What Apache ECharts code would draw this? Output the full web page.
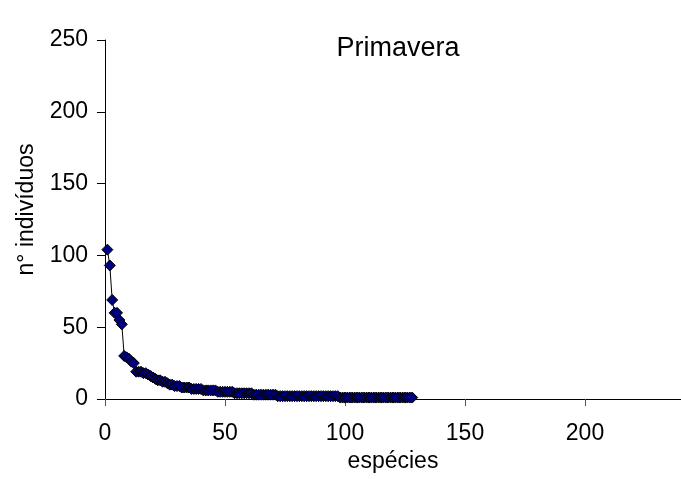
<!DOCTYPE html>
<html>
<head>
<meta charset="utf-8">
<script src="https://cdn.jsdelivr.net/npm/echarts@6/dist/echarts.min.js"></script>
<style>
  html, body { margin: 0; padding: 0; background: #fff; }
  #chart { width: 681px; height: 479px; }
</style>
</head>
<body>
<div id="chart"></div>
<script>
// species abundance, ranked (rank 1 .. 128)
var abundance = [
  104, 93, 69, 60, 60, 55, 52, 30, 29, 28,
  26, 25, 19, 19, 19, 18, 18, 17, 16, 15,
  14, 13, 13, 12, 12, 11, 10, 10, 9, 9,
  9, 8, 8, 8, 8, 7, 7, 7, 7, 7,
  6, 6, 6, 6, 6, 6, 5, 5, 5, 5,
  5, 5, 5, 4, 4, 4, 4, 4, 4, 4,
  4, 3, 3, 3, 3, 3, 3, 3, 3, 3,
  3, 2, 2, 2, 2, 2, 2, 2, 2, 2,
  2, 2, 2, 2, 2, 2, 2, 2, 2, 2,
  2, 2, 2, 2, 2, 2, 2, 1, 1, 1,
  1, 1, 1, 1, 1, 1, 1, 1, 1, 1,
  1, 1, 1, 1, 1, 1, 1, 1, 1, 1,
  1, 1, 1, 1, 1, 1, 1, 1
];
var xTicks = [0, 50, 100, 150, 200];
var yTicks = [0, 50, 100, 150, 200, 250];

var points = abundance.map(function (v, i) { return [i + 1, v]; });

var font = 'Liberation Sans, Arial, sans-serif';
var chart = echarts.init(document.getElementById('chart'));
chart.setOption({
  animation: false,
  title: {
    text: 'Primavera',
    left: 393,
    top: 30,
    textAlign: 'center',
    textStyle: { fontFamily: font, fontSize: 27, fontWeight: 'normal', color: '#000' }
  },
  grid: { left: 105, right: 0, top: 40, bottom: 80 },
  xAxis: {
    type: 'value',
    min: 0,
    max: 240,
    interval: 50,
    name: 'espécies',
    nameLocation: 'middle',
    nameGap: 50,
    nameTextStyle: { fontFamily: font, fontSize: 23, color: '#000' },
    axisLine: { lineStyle: { color: '#000', width: 1 } },
    axisTick: { length: 7, lineStyle: { color: '#555' } },
    axisLabel: {
      fontFamily: font, fontSize: 23, color: '#000', margin: 23,
      showMaxLabel: false,
      formatter: function (v) { return xTicks.indexOf(v) >= 0 ? v : ''; }
    },
    splitLine: { show: false }
  },
  yAxis: {
    type: 'value',
    min: 0,
    max: 250,
    interval: 50,
    name: 'n° indivíduos',
    nameLocation: 'middle',
    nameGap: 67,
    nameTextStyle: { fontFamily: font, fontSize: 23, color: '#000', padding: [0, 0, 0, 20] },
    axisLine: { show: true, lineStyle: { color: '#000', width: 1 } },
    axisTick: { show: true, length: 8, lineStyle: { color: '#000' } },
    axisLabel: {
      fontFamily: font, fontSize: 23, color: '#000', margin: 17,
      formatter: function (v) { return yTicks.indexOf(v) >= 0 ? v : ''; }
    },
    splitLine: { show: false }
  },
  series: [{
    type: 'line',
    data: points,
    symbol: 'diamond',
    symbolSize: 11,
    itemStyle: { color: '#000080', borderColor: '#000', borderWidth: 1 },
    lineStyle: { color: '#000', width: 1 }
  }]
});
</script>
</body>
</html>
